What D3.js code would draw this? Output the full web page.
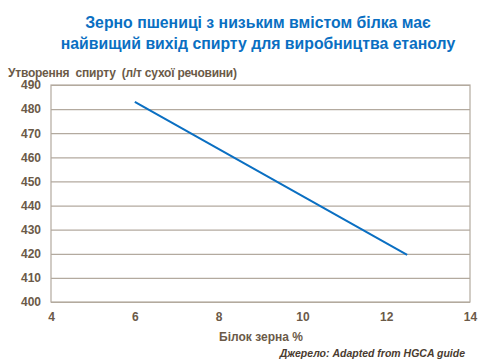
<!DOCTYPE html>
<html><head><meta charset="utf-8">
<script src="https://cdn.jsdelivr.net/npm/d3@7"></script>
<style>body{margin:0;background:#fff}svg{display:block}</style>
</head><body>
<svg id="c" width="480" height="360"></svg>
<script>
const titleLines = ["Зерно пшениці з низьким вмістом білка має", "найвищий вихід спирту для виробництва етанолу"];
const yTitle = "Утворення  спирту  (л/т сухої речовини)";
const xTitle = "Білок зерна %";
const source = "Джерело: Adapted from HGCA guide";
const protein = [6, 12.5];
const yieldVals = [483, 419.5];
const xTicks = [4, 6, 8, 10, 12, 14];
const yTicks = [400, 410, 420, 430, 440, 450, 460, 470, 480, 490];

const svg = d3.select("#c");
const m = {l: 51, r: 470, t: 85, b: 302};
const x = d3.scaleLinear().domain([4, 14]).range([m.l, m.r]);
const y = d3.scaleLinear().domain([400, 490]).range([m.b, m.t]);
const txt = "#6b5a48", grid = "#b3aa9f";
const font = "'Liberation Sans', Arial, sans-serif";

svg.append("g").selectAll("text").data(titleLines).join("text")
  .attr("x", 258).attr("y", (d, i) => 28 + i * 20.5)
  .attr("text-anchor", "middle").attr("fill", "#0a6fc2")
  .attr("font-family", font).attr("font-weight", "bold").attr("font-size", 15.8)
  .text(d => d);

svg.append("text").attr("x", 8).attr("y", 76.5).attr("fill", txt)
  .style("white-space", "pre").attr("textLength", 229)
  .attr("font-family", font).attr("font-weight", "bold").attr("font-size", 12)
  .text(yTitle);

const ya = svg.append("g").attr("transform", `translate(${m.l},0)`)
  .call(d3.axisLeft(y).tickValues(yTicks).tickSize(-(m.r - m.l)).tickPadding(10).tickFormat(d3.format("d")));
ya.select(".domain").remove();
ya.selectAll("line").attr("stroke", grid).attr("stroke-width", 1.2);
ya.selectAll("text").attr("fill", txt).attr("font-family", font).attr("font-weight", "bold").attr("font-size", 12);

const xa = svg.append("g").attr("transform", `translate(0,${m.b})`)
  .call(d3.axisBottom(x).tickValues(xTicks).tickSize(0).tickPadding(10).tickFormat(d3.format("d")));
xa.select(".domain").remove();
xa.selectAll("text").attr("fill", txt).attr("font-family", font).attr("font-weight", "bold").attr("font-size", 12);

svg.append("rect").attr("x", m.l).attr("y", m.t).attr("width", m.r - m.l).attr("height", m.b - m.t)
  .attr("fill", "none").attr("stroke", grid).attr("stroke-width", 1.2);

const pts = protein.map((p, i) => [p, yieldVals[i]]);
svg.append("path").datum(pts)
  .attr("d", d3.line().x(d => x(d[0])).y(d => y(d[1])))
  .attr("fill", "none").attr("stroke", "#0a6fc2").attr("stroke-width", 2);

svg.append("text").attr("x", 261).attr("y", 341).attr("text-anchor", "middle")
  .attr("fill", txt).attr("font-family", font).attr("font-weight", "bold").attr("font-size", 12)
  .text(xTitle);

svg.append("text").attr("x", 465).attr("y", 357).attr("text-anchor", "end")
  .attr("fill", "#4a3c30").attr("font-family", font).attr("font-style", "italic").attr("font-weight", "bold").attr("font-size", 10.5)
  .text(source);
</script>
</body></html>
